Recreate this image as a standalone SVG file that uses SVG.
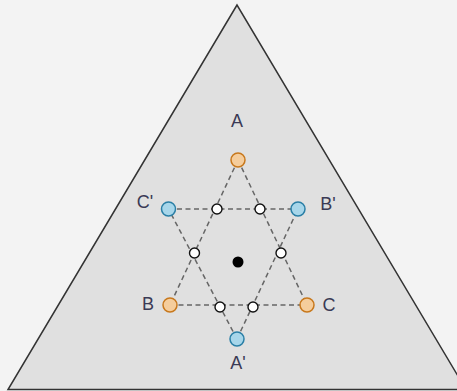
<svg xmlns="http://www.w3.org/2000/svg" width="457" height="391" viewBox="0 0 457 391">
<style>
.lbl{font-family:"Liberation Sans",Arial,sans-serif;font-size:18px;fill:#3a3a55;text-anchor:middle}
.dash{stroke:#666;stroke-width:1.5;stroke-dasharray:5 3.5;fill:none}
.or{fill:#f5cd9c;stroke:#c8781c;stroke-width:1.5}
.bl{fill:#a7d6ea;stroke:#2a7fa6;stroke-width:1.5}
.mid{fill:#fff;stroke:#111;stroke-width:1.4}
</style>
<rect width="457" height="391" fill="#f3f3f3"/>
<g id="triangle"><polygon points="237,5 8,389.5 466,389.5" fill="#e0e0e0" stroke="#333" stroke-width="1.5"/></g>
<g id="connectors">
<path class="dash" d="M238,160 L170,305 M238,160 L307,305 M170,305 L307,305"/>
<path class="dash" d="M237,339 L168.5,209 M237,339 L298,209 M168.5,209 L298,209"/>
</g>
<g id="A"><circle class="or" cx="238" cy="160" r="7"/><text class="lbl" x="237" y="127">A</text></g>
<g id="B"><circle class="or" cx="170" cy="305" r="7"/><text class="lbl" x="148" y="310">B</text></g>
<g id="C"><circle class="or" cx="307" cy="305" r="7"/><text class="lbl" x="329" y="311">C</text></g>
<g id="Ap"><circle class="bl" cx="237" cy="339" r="7"/><text class="lbl" x="238" y="369">A'</text></g>
<g id="Bp"><circle class="bl" cx="298" cy="209" r="7"/><text class="lbl" x="328" y="210">B'</text></g>
<g id="Cp"><circle class="bl" cx="168.5" cy="209" r="7"/><text class="lbl" x="145" y="208">C'</text></g>
<g id="m1"><circle class="mid" cx="217" cy="209" r="5"/></g>
<g id="m2"><circle class="mid" cx="260" cy="209" r="5"/></g>
<g id="m3"><circle class="mid" cx="194.5" cy="253" r="5"/></g>
<g id="m4"><circle class="mid" cx="281" cy="253" r="5"/></g>
<g id="m5"><circle class="mid" cx="220" cy="307" r="5"/></g>
<g id="m6"><circle class="mid" cx="253" cy="307" r="5"/></g>
<g id="center"><circle cx="238" cy="262" r="5.5" fill="#000"/></g>
</svg>
